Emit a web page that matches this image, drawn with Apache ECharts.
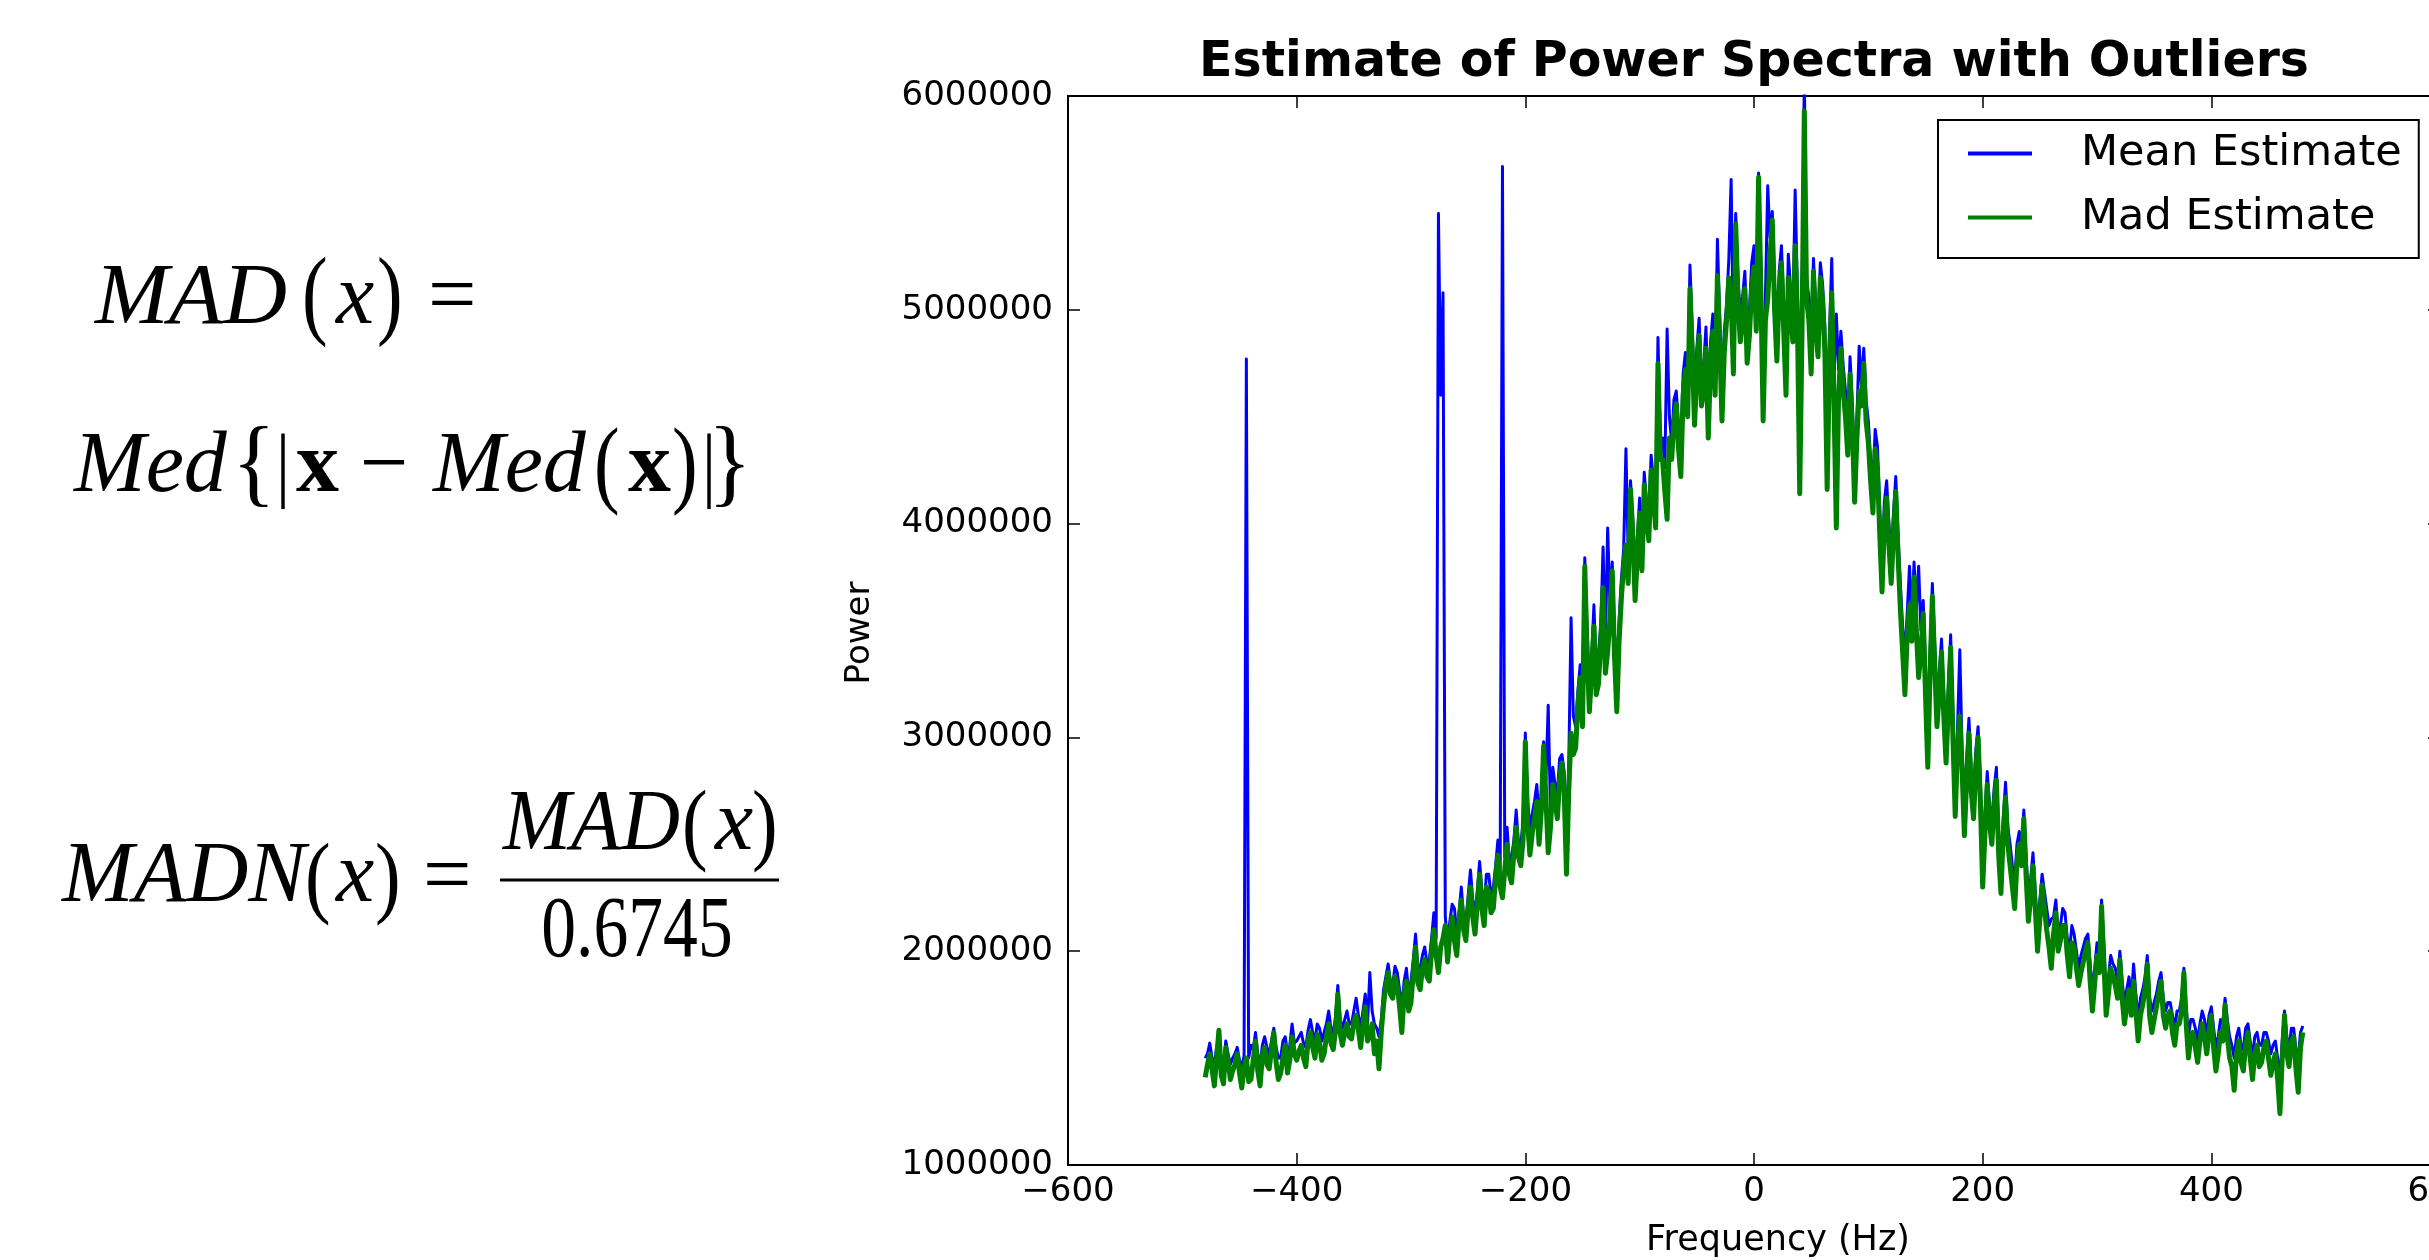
<!DOCTYPE html>
<html>
<head>
<meta charset="utf-8">
<script src="https://cdn.jsdelivr.net/npm/echarts@6/dist/echarts.min.js"></script>
<style>
html,body{margin:0;padding:0;background:#fff;overflow:hidden;}
#chart{width:2429px;height:1260px;}
</style>
</head>
<body>
<div id="chart"></div>
<script>
// ---------------- DATA ----------------
const chartTitle = 'Estimate of Power Spectra with Outliers';
const xAxisName = 'Frequency (Hz)';
const yAxisName = 'Power';
const seriesNames = ['Mean Estimate', 'Mad Estimate'];
const xTicks = [-600, -400, -200, 0, 200, 400, 600];
const yTicks = [1000000, 2000000, 3000000, 4000000, 5000000, 6000000];

const freqs = [
-480,-478,-476,-474,-472,-470,-468,-466,-464,-462,-460,-458,-456,-454,-452,-450,-448,-446,-444,-442,
-440,-438,-436,-434,-432,-430,-428,-426,-424,-422,-420,-418,-416,-414,-412,-410,-408,-406,-404,-402,
-400,-398,-396,-394,-392,-390,-388,-386,-384,-382,-380,-378,-376,-374,-372,-370,-368,-366,-364,-362,
-360,-358,-356,-354,-352,-350,-348,-346,-344,-342,-340,-338,-336,-334,-332,-330,-328,-326,-324,-322,
-320,-318,-316,-314,-312,-310,-308,-306,-304,-302,-300,-298,-296,-294,-292,-290,-288,-286,-284,-282,
-280,-278,-276,-274,-272,-270,-268,-266,-264,-262,-260,-258,-256,-254,-252,-250,-248,-246,-244,-242,
-240,-238,-236,-234,-232,-230,-228,-226,-224,-222,-220,-218,-216,-214,-212,-210,-208,-206,-204,-202,
-200,-198,-196,-194,-192,-190,-188,-186,-184,-182,-180,-178,-176,-174,-172,-170,-168,-166,-164,-162,
-160,-158,-156,-154,-152,-150,-148,-146,-144,-142,-140,-138,-136,-134,-132,-130,-128,-126,-124,-122,
-120,-118,-116,-114,-112,-110,-108,-106,-104,-102,-100,-98,-96,-94,-92,-90,-88,-86,-84,-82,
-80,-78,-76,-74,-72,-70,-68,-66,-64,-62,-60,-58,-56,-54,-52,-50,-48,-46,-44,-42,
-40,-38,-36,-34,-32,-30,-28,-26,-24,-22,-20,-18,-16,-14,-12,-10,-8,-6,-4,-2,
0,2,4,6,8,10,12,14,16,18,20,22,24,26,28,30,32,34,36,38,
40,42,44,46,48,50,52,54,56,58,60,62,64,66,68,70,72,74,76,78,
80,82,84,86,88,90,92,94,96,98,100,102,104,106,108,110,112,114,116,118,
120,122,124,126,128,130,132,134,136,138,140,142,144,146,148,150,152,154,156,158,
160,162,164,166,168,170,172,174,176,178,180,182,184,186,188,190,192,194,196,198,
200,202,204,206,208,210,212,214,216,218,220,222,224,226,228,230,232,234,236,238,
240,242,244,246,248,250,252,254,256,258,260,262,264,266,268,270,272,274,276,278,
280,282,284,286,288,290,292,294,296,298,300,302,304,306,308,310,312,314,316,318,
320,322,324,326,328,330,332,334,336,338,340,342,344,346,348,350,352,354,356,358,
360,362,364,366,368,370,372,374,376,378,380,382,384,386,388,390,392,394,396,398,
400,402,404,406,408,410,412,414,416,418,420,422,424,426,428,430,432,434,436,438,
440,442,444,446,448,450,452,454,456,458,460,462,464,466,468,470,472,474,476,478,
480
];

const meanEstimate = [
1.50e6,1.52e6,1.57e6,1.50e6,1.47e6,1.55e6,1.60e6,1.49e6,1.45e6,1.58e6,1.52e6,1.47e6,1.50e6,1.52e6,1.55e6,1.49e6,1.46e6,1.51e6,4.77e6,1.50e6,
1.56e6,1.54e6,1.62e6,1.52e6,1.46e6,1.56e6,1.60e6,1.55e6,1.52e6,1.58e6,1.64e6,1.55e6,1.50e6,1.50e6,1.58e6,1.60e6,1.52e6,1.56e6,1.66e6,1.57e6,
1.58e6,1.60e6,1.62e6,1.57e6,1.55e6,1.63e6,1.68e6,1.62e6,1.58e6,1.66e6,1.64e6,1.58e6,1.62e6,1.66e6,1.72e6,1.64e6,1.62e6,1.69e6,1.84e6,1.68e6,
1.64e6,1.68e6,1.72e6,1.66e6,1.66e6,1.72e6,1.78e6,1.70e6,1.64e6,1.72e6,1.80e6,1.66e6,1.90e6,1.72e6,1.66e6,1.64e6,1.60e6,1.68e6,1.82e6,1.88e6,
1.94e6,1.86e6,1.84e6,1.93e6,1.90e6,1.82e6,1.74e6,1.86e6,1.92e6,1.80e6,1.86e6,1.96e6,2.08e6,1.92e6,1.92e6,1.98e6,2.02e6,1.94e6,1.96e6,2.06e6,
2.18e6,2.06e6,5.45e6,4.60e6,5.08e6,2.16e6,2.04e6,2.14e6,2.22e6,2.20e6,2.08e6,2.18e6,2.30e6,2.16e6,2.14e6,2.26e6,2.38e6,2.24e6,2.18e6,2.28e6,
2.42e6,2.28e6,2.22e6,2.36e6,2.36e6,2.26e6,2.30e6,2.40e6,2.52e6,2.36e6,5.67e6,2.44e6,2.58e6,2.42e6,2.44e6,2.52e6,2.66e6,2.50e6,2.50e6,2.60e6,
3.02e6,2.70e6,2.58e6,2.64e6,2.70e6,2.78e6,2.62e6,2.74e6,2.98e6,2.80e6,3.15e6,2.66e6,2.86e6,2.78e6,2.74e6,2.90e6,2.92e6,2.84e6,2.52e6,2.88e6,
3.56e6,3.10e6,3.05e6,3.22e6,3.34e6,3.16e6,3.84e6,3.50e6,3.24e6,3.38e6,3.62e6,3.30e6,3.40e6,3.52e6,3.89e6,3.42e6,3.98e6,3.62e6,3.82e6,3.48e6,
3.30e6,3.55e6,3.74e6,3.88e6,4.35e6,3.84e6,4.20e6,4.02e6,3.76e6,3.94e6,4.12e6,3.88e6,4.24e6,4.10e6,4.02e6,4.32e6,4.20e6,4.08e6,4.87e6,4.40e6,
4.40e6,4.26e6,4.91e6,4.50e6,4.38e6,4.58e6,4.62e6,4.46e6,4.34e6,4.70e6,4.80e6,4.62e6,5.21e6,4.90e6,4.60e6,4.82e6,4.96e6,4.66e6,4.74e6,4.92e6,
4.56e6,4.85e6,4.98e6,4.72e6,5.33e6,4.96e6,4.62e6,4.90e6,5.02e6,5.24e6,5.61e6,4.84e6,5.45e6,5.14e6,4.98e6,5.06e6,5.18e6,4.88e6,5.00e6,5.22e6,
5.30e6,5.02e6,5.64e6,5.20e6,4.62e6,5.06e6,5.58e6,5.34e6,5.46e6,5.12e6,4.88e6,5.18e6,5.30e6,5.02e6,4.72e6,5.26e6,5.10e6,4.96e6,5.56e6,5.08e6,
4.32e6,5.00e6,6.10e6,5.14e6,5.06e6,4.84e6,5.24e6,5.02e6,4.92e6,5.22e6,5.12e6,4.92e6,4.36e6,4.88e6,5.24e6,4.68e6,4.98e6,4.72e6,4.90e6,4.74e6,
4.62e6,4.44e6,4.78e6,4.56e6,4.22e6,4.50e6,4.83e6,4.64e6,4.82e6,4.58e6,4.48e6,4.30e6,4.18e6,4.44e6,4.36e6,4.06e6,3.80e6,4.10e6,4.20e6,4.00e6,
3.84e6,4.05e6,4.22e6,3.94e6,3.72e6,3.52e6,3.38e6,3.58e6,3.80e6,3.56e6,3.82e6,3.60e6,3.80e6,3.50e6,3.64e6,3.32e6,3.00e6,3.40e6,3.72e6,3.44e6,
3.18e6,3.30e6,3.46e6,3.20e6,3.00e6,3.24e6,3.48e6,3.10e6,2.76e6,3.04e6,3.41e6,2.94e6,2.66e6,2.90e6,3.09e6,2.84e6,2.74e6,2.94e6,3.05e6,2.80e6,
2.42e6,2.64e6,2.84e6,2.68e6,2.60e6,2.76e6,2.86e6,2.54e6,2.38e6,2.62e6,2.79e6,2.58e6,2.50e6,2.40e6,2.32e6,2.50e6,2.56e6,2.48e6,2.66e6,2.44e6,
2.26e6,2.34e6,2.46e6,2.28e6,2.10e6,2.24e6,2.36e6,2.28e6,2.20e6,2.12e6,2.15e6,2.16e6,2.24e6,2.08e6,2.12e6,2.20e6,2.18e6,2.06e6,2.00e6,2.12e6,
2.08e6,2.00e6,1.92e6,1.98e6,2.02e6,2.06e6,2.08e6,1.94e6,1.82e6,1.92e6,2.04e6,1.96e6,2.24e6,2.02e6,1.80e6,1.88e6,1.98e6,1.94e6,1.92e6,1.86e6,
2.00e6,1.86e6,1.76e6,1.82e6,1.88e6,1.78e6,1.94e6,1.80e6,1.68e6,1.78e6,1.82e6,1.88e6,1.98e6,1.78e6,1.72e6,1.76e6,1.80e6,1.86e6,1.90e6,1.78e6,
1.72e6,1.76e6,1.76e6,1.70e6,1.64e6,1.72e6,1.72e6,1.78e6,1.92e6,1.74e6,1.60e6,1.68e6,1.68e6,1.64e6,1.58e6,1.66e6,1.72e6,1.68e6,1.60e6,1.70e6,
1.74e6,1.64e6,1.55e6,1.60e6,1.68e6,1.66e6,1.78e6,1.68e6,1.60e6,1.56e6,1.50e6,1.60e6,1.64e6,1.56e6,1.54e6,1.64e6,1.66e6,1.58e6,1.50e6,1.60e6,
1.62e6,1.56e6,1.56e6,1.62e6,1.62e6,1.58e6,1.52e6,1.56e6,1.58e6,1.50e6,1.40e6,1.58e6,1.72e6,1.60e6,1.54e6,1.64e6,1.64e6,1.54e6,1.50e6,1.62e6,
1.65e6
];

const madEstimate = [
1.41e6,1.47e6,1.52e6,1.45e6,1.37e6,1.50e6,1.63e6,1.42e6,1.38e6,1.55e6,1.49e6,1.40e6,1.44e6,1.47e6,1.52e6,1.43e6,1.36e6,1.46e6,1.50e6,1.39e6,
1.40e6,1.49e6,1.58e6,1.44e6,1.37e6,1.51e6,1.55e6,1.47e6,1.45e6,1.54e6,1.62e6,1.48e6,1.40e6,1.43e6,1.50e6,1.56e6,1.43e6,1.49e6,1.60e6,1.52e6,
1.49e6,1.53e6,1.56e6,1.50e6,1.46e6,1.58e6,1.62e6,1.55e6,1.50e6,1.61e6,1.57e6,1.49e6,1.52e6,1.60e6,1.66e6,1.57e6,1.54e6,1.63e6,1.80e6,1.62e6,
1.56e6,1.62e6,1.66e6,1.60e6,1.59e6,1.67e6,1.70e6,1.63e6,1.55e6,1.66e6,1.74e6,1.58e6,1.60e6,1.66e6,1.52e6,1.58e6,1.45e6,1.62e6,1.75e6,1.84e6,
1.90e6,1.80e6,1.78e6,1.88e6,1.84e6,1.74e6,1.62e6,1.80e6,1.86e6,1.72e6,1.76e6,1.90e6,2.02e6,1.85e6,1.82e6,1.92e6,1.96e6,1.88e6,1.86e6,2.00e6,
2.10e6,1.98e6,1.90e6,2.02e6,2.06e6,2.12e6,1.95e6,2.08e6,2.16e6,2.05e6,1.98e6,2.14e6,2.24e6,2.10e6,2.05e6,2.20e6,2.30e6,2.16e6,2.08e6,2.22e6,
2.36e6,2.20e6,2.12e6,2.30e6,2.28e6,2.18e6,2.20e6,2.34e6,2.45e6,2.30e6,2.25e6,2.38e6,2.50e6,2.36e6,2.32e6,2.46e6,2.58e6,2.44e6,2.40e6,2.52e6,
2.98e6,2.60e6,2.45e6,2.55e6,2.62e6,2.70e6,2.50e6,2.66e6,2.96e6,2.72e6,2.46e6,2.58e6,2.78e6,2.70e6,2.62e6,2.80e6,2.88e6,2.74e6,2.36e6,2.75e6,
3.02e6,2.92e6,2.95e6,3.15e6,3.28e6,3.05e6,3.80e6,3.40e6,3.12e6,3.30e6,3.52e6,3.20e6,3.25e6,3.45e6,3.70e6,3.30e6,3.40e6,3.55e6,3.78e6,3.38e6,
3.12e6,3.45e6,3.65e6,3.80e6,3.90e6,3.72e6,4.16e6,3.95e6,3.64e6,3.85e6,4.05e6,3.78e6,4.18e6,4.02e6,3.92e6,4.25e6,4.12e6,3.98e6,4.75e6,4.30e6,
4.30e6,4.15e6,4.02e6,4.40e6,4.30e6,4.48e6,4.56e6,4.35e6,4.22e6,4.60e6,4.72e6,4.50e6,5.10e6,4.80e6,4.46e6,4.70e6,4.88e6,4.55e6,4.62e6,4.82e6,
4.40e6,4.75e6,4.90e6,4.60e6,5.16e6,4.85e6,4.48e6,4.80e6,4.95e6,5.15e6,5.05e6,4.70e6,5.40e6,5.05e6,4.85e6,4.95e6,5.10e6,4.75e6,4.88e6,5.10e6,
5.20e6,4.90e6,5.62e6,5.10e6,4.48e6,4.95e6,5.05e6,5.25e6,5.42e6,5.00e6,4.76e6,5.08e6,5.22e6,4.90e6,4.60e6,5.15e6,5.00e6,4.85e6,5.30e6,4.95e6,
4.14e6,4.90e6,5.93e6,5.05e6,4.95e6,4.70e6,5.18e6,4.92e6,4.78e6,5.15e6,5.05e6,4.80e6,4.16e6,4.75e6,5.08e6,4.55e6,3.98e6,4.60e6,4.82e6,4.62e6,
4.50e6,4.32e6,4.70e6,4.45e6,4.10e6,4.40e6,4.62e6,4.55e6,4.75e6,4.48e6,4.38e6,4.20e6,4.05e6,4.35e6,4.25e6,3.95e6,3.68e6,4.00e6,4.12e6,3.90e6,
3.72e6,3.95e6,4.15e6,3.85e6,3.60e6,3.40e6,3.20e6,3.48e6,3.62e6,3.45e6,3.75e6,3.50e6,3.28e6,3.40e6,3.58e6,3.20e6,2.86e6,3.30e6,3.66e6,3.35e6,
3.05e6,3.20e6,3.40e6,3.10e6,2.88e6,3.15e6,3.42e6,3.00e6,2.63e6,2.95e6,3.10e6,2.85e6,2.54e6,2.80e6,3.02e6,2.75e6,2.62e6,2.85e6,3.00e6,2.70e6,
2.30e6,2.55e6,2.78e6,2.60e6,2.50e6,2.68e6,2.80e6,2.45e6,2.27e6,2.55e6,2.72e6,2.50e6,2.40e6,2.30e6,2.20e6,2.42e6,2.50e6,2.40e6,2.62e6,2.35e6,
2.14e6,2.25e6,2.40e6,2.20e6,2.00e6,2.15e6,2.31e6,2.20e6,2.10e6,2.02e6,1.92e6,2.08e6,2.18e6,2.00e6,2.05e6,2.12e6,2.12e6,1.98e6,1.88e6,2.04e6,
2.02e6,1.92e6,1.84e6,1.90e6,1.95e6,2.00e6,2.04e6,1.86e6,1.72e6,1.85e6,1.98e6,1.90e6,2.21e6,1.95e6,1.70e6,1.80e6,1.92e6,1.88e6,1.84e6,1.78e6,
1.96e6,1.78e6,1.66e6,1.74e6,1.82e6,1.70e6,1.86e6,1.72e6,1.58e6,1.70e6,1.75e6,1.82e6,1.94e6,1.70e6,1.62e6,1.68e6,1.74e6,1.80e6,1.86e6,1.70e6,
1.64e6,1.70e6,1.72e6,1.62e6,1.56e6,1.66e6,1.66e6,1.72e6,1.90e6,1.66e6,1.50e6,1.60e6,1.62e6,1.55e6,1.48e6,1.58e6,1.66e6,1.60e6,1.52e6,1.62e6,
1.70e6,1.55e6,1.44e6,1.52e6,1.62e6,1.58e6,1.75e6,1.60e6,1.50e6,1.46e6,1.35e6,1.52e6,1.58e6,1.48e6,1.44e6,1.56e6,1.62e6,1.50e6,1.40e6,1.52e6,
1.56e6,1.46e6,1.48e6,1.55e6,1.58e6,1.50e6,1.42e6,1.48e6,1.52e6,1.40e6,1.24e6,1.50e6,1.70e6,1.52e6,1.46e6,1.58e6,1.60e6,1.45e6,1.34e6,1.55e6,
1.62e6
];

// ---------------- LAYOUT ----------------
const SANS = '"DejaVu Sans", sans-serif';
const SERIF = '"Liberation Serif", "DejaVu Serif", serif';
const plot = {left: 1068, top: 96, width: 1372, height: 1069};

const chart = echarts.init(document.getElementById('chart'), null, {renderer: 'canvas'});

function fmtNum(v) { return String(v).replace('-', '\u2212'); }

// letters: [text, x, baseline, size, fontStyle, fontWeight, align, scaleX]
const K = 0.27;
const letterPieces = [
  ['MAD', 95, 324, 86, 'italic', 'normal', 'left', 1.03],
  ['x', 336, 324, 86, 'italic', 'normal', 'left', 1],
  ['=', 428, 324, 86, 'normal', 'normal', 'left', 1],

  ['Med', 74, 492, 86, 'italic', 'normal', 'left', 1],
  ['x', 296, 492, 86, 'normal', 'bold', 'left', 1],
  ['\u2212', 360, 492, 86, 'normal', 'normal', 'left', 1],
  ['Med', 433, 492, 86, 'italic', 'normal', 'left', 1],
  ['x', 628, 492, 86, 'normal', 'bold', 'left', 1],

  ['MADN', 62, 902, 86, 'italic', 'normal', 'left', 1],
  ['x', 336, 902, 86, 'italic', 'normal', 'left', 1],
  ['=', 423, 904, 86, 'normal', 'normal', 'left', 1],
  ['MAD', 503, 850, 86, 'italic', 'normal', 'left', 0.95],
  ['x', 715, 850, 86, 'italic', 'normal', 'left', 1],
  ['0.6745', 637, 957, 86, 'normal', 'normal', 'center', 0.81]
];
// delimiters: [text, x, centerY, scaleX, scaleY]
const DS = 70;
const delimPieces = [
  ['(', 302, 300, 1.1, 1.41],
  [')', 377, 300, 1.1, 1.41],
  ['{', 232, 469, 1.3, 1.38],
  ['|', 276, 469, 1, 1.19],
  ['(', 594, 469, 1.1, 1.39],
  [')', 672, 469, 1.1, 1.39],
  ['|', 702, 469, 1, 1.19],
  ['}', 708, 469, 1.3, 1.38],
  ['(', 305, 882, 1.1, 1.29],
  [')', 375, 882, 1.1, 1.29],
  ['(', 682, 829, 1.1, 1.29],
  [')', 752, 829, 1.1, 1.29]
];

const graphics = letterPieces.map(p => ({
  type: 'text',
  x: p[1],
  y: p[2] - K * p[3],
  scaleX: p[7],
  style: {
    text: p[0],
    font: p[4] + ' ' + p[5] + ' ' + p[3] + 'px ' + SERIF,
    textAlign: p[6],
    textVerticalAlign: 'middle',
    fill: '#000'
  }
})).concat(delimPieces.map(p => ({
  type: 'text',
  x: p[1],
  y: p[2],
  scaleX: p[3],
  scaleY: p[4],
  style: {
    text: p[0],
    font: 'normal normal ' + DS + 'px ' + SERIF,
    textAlign: 'left',
    textVerticalAlign: 'middle',
    fill: '#000'
  }
})));
graphics.push({
  type: 'line',
  shape: {x1: 500, y1: 880, x2: 779, y2: 880},
  style: {stroke: '#000', lineWidth: 3}
});
graphics.push({
  type: 'text', x: plot.left + plot.width / 2, y: 63,
  style: {text: chartTitle, font: 'bold 49px ' + SANS, textAlign: 'center', textVerticalAlign: 'middle', fill: '#000'}
});
graphics.push({
  type: 'text', x: 1778, y: 1241,
  style: {text: xAxisName, font: '35px ' + SANS, textAlign: 'center', textVerticalAlign: 'middle', fill: '#000'}
});
graphics.push({
  type: 'text', x: 860, y: 633, rotation: Math.PI / 2,
  style: {text: yAxisName, font: '34px ' + SANS, textAlign: 'center', textVerticalAlign: 'middle', fill: '#000'}
});

const tickStyle = {inside: true, length: 12, lineStyle: {color: '#000', width: 1.5}};
const noLine = {show: false, onZero: false};

const option = {
  animation: false,
  backgroundColor: '#ffffff',
  grid: {
    left: plot.left, top: plot.top, width: plot.width, height: plot.height,
    show: true, borderColor: '#000', borderWidth: 2, backgroundColor: 'transparent',
    containLabel: false,
    outerBoundsMode: 'none'
  },
  legend: {
    orient: 'vertical',
    left: 1938, top: 120,
    padding: [12, 17, 19, 30],
    itemGap: 21,
    itemWidth: 64, itemHeight: 4,
    icon: 'rect',
    borderColor: '#000', borderWidth: 2, borderRadius: 0,
    backgroundColor: '#fff',
    textStyle: {fontSize: 43, fontFamily: SANS, color: '#000', padding: [0, 0, 0, 44], lineHeight: 43},
    data: seriesNames
  },
  xAxis: [{
    type: 'value', position: 'bottom',
    min: xTicks[0], max: xTicks[xTicks.length - 1], interval: 200,
    axisLine: noLine,
    axisTick: tickStyle,
    splitLine: {show: false},
    axisLabel: {fontSize: 34, fontFamily: SANS, color: '#000', margin: 10, formatter: fmtNum, showMinLabel: true, showMaxLabel: true, hideOverlap: false}
  }, {
    type: 'value', position: 'top',
    min: xTicks[0], max: xTicks[xTicks.length - 1], interval: 200,
    axisLine: noLine, axisTick: tickStyle, splitLine: {show: false}, axisLabel: {show: false}
  }],
  yAxis: [{
    type: 'value', position: 'left',
    min: yTicks[0], max: yTicks[yTicks.length - 1], interval: 1000000,
    axisLine: noLine,
    axisTick: tickStyle,
    splitLine: {show: false},
    axisLabel: {fontSize: 34, fontFamily: SANS, color: '#000', margin: 15, formatter: v => String(v), showMinLabel: true, showMaxLabel: true}
  }, {
    type: 'value', position: 'right',
    min: yTicks[0], max: yTicks[yTicks.length - 1], interval: 1000000,
    axisLine: noLine, axisTick: tickStyle, splitLine: {show: false}, axisLabel: {show: false}
  }],
  series: [{
    name: seriesNames[0], type: 'line', xAxisIndex: 0, yAxisIndex: 0,
    symbol: 'none', showSymbol: false, clip: true, sampling: undefined,
    lineStyle: {color: '#0000ff', width: 3, join: 'round'},
    itemStyle: {color: '#0000ff'},
    data: freqs.map((f, i) => [f, meanEstimate[i]])
  }, {
    name: seriesNames[1], type: 'line', xAxisIndex: 0, yAxisIndex: 0,
    symbol: 'none', showSymbol: false, clip: true,
    lineStyle: {color: '#008000', width: 5, join: 'round'},
    itemStyle: {color: '#008000'},
    data: freqs.map((f, i) => [f, madEstimate[i]])
  }],
  graphic: graphics
};
chart.setOption(option);
</script>
</body>
</html>
